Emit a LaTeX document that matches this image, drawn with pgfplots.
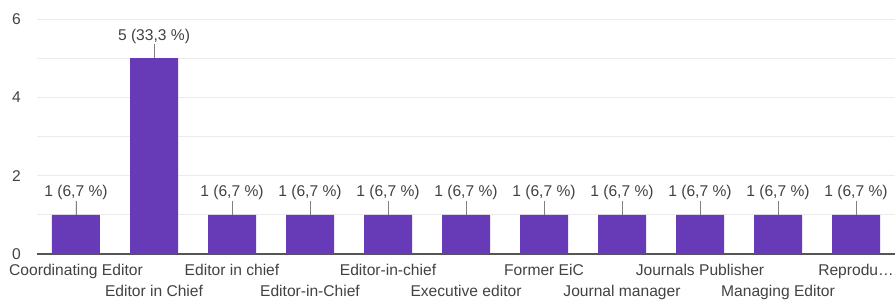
\documentclass[border=0pt]{standalone}
\usepackage{fontspec}
\setmainfont{Liberation Sans}
\usepackage{pgfplots}
\pgfplotsset{compat=1.18}
\definecolor{barc}{HTML}{673AB7}
\definecolor{txt}{HTML}{424242}
\definecolor{gridc}{HTML}{EBEBEB}
\definecolor{axc}{HTML}{555555}
\begin{document}
\begin{tikzpicture}
\begin{axis}[
  scale only axis,
  width=858bp, height=235bp,
  xmin=-0.5, xmax=10.5, ymin=0, ymax=6,
  ytick={0,2,4,6}, minor ytick={1,3,5},
  ymajorgrids, yminorgrids,
  grid style={draw=gridc, line width=0.8bp},
  minor grid style={draw=gridc, line width=0.8bp},
  major tick length=0pt, minor tick length=0pt,
  axis line style={draw=none},
  extra y ticks={0}, extra y tick labels={},
  extra y tick style={grid style={draw=axc, line width=1.5bp}},
  xtick={0,...,10},
  xticklabels={
    {\strut Coordinating Editor},
    {\strut\\\strut Editor in Chief},
    {\strut Editor in chief},
    {\strut\\\strut Editor-in-Chief},
    {\strut Editor-in-chief},
    {\strut\\\strut Executive editor},
    {\strut Former EiC},
    {\strut\\\strut Journal manager},
    {\strut Journals Publisher},
    {\strut\\\strut Managing Editor},
    {\strut Reprodu…}},
  xticklabel style={align=center, anchor=north, inner sep=0pt, yshift=-6.5bp,
    font=\fontsize{15.6bp}{21bp}\selectfont, text=txt},
  yticklabel style={font=\fontsize{15.6bp}{18bp}\selectfont, text=txt, inner sep=0pt, xshift=-16bp},
  /pgf/number format/assume math mode=true,
  ybar, bar width=48bp,
  point meta=explicit symbolic,
  nodes near coords,
  nodes near coords style={anchor=base, inner sep=0pt, yshift=18bp,
    font=\fontsize{15.6bp}{18bp}\selectfont, text=txt},
]
\addplot[fill=barc, draw=none,
  error bars/.cd, y dir=plus, y fixed=0.36, error mark=none,
  error bar style={draw=gray, line width=0.9bp}]
coordinates {
  (0,1) [1 (6,7 \%)]
  (1,5) [5 (33,3 \%)]
  (2,1) [1 (6,7 \%)]
  (3,1) [1 (6,7 \%)]
  (4,1) [1 (6,7 \%)]
  (5,1) [1 (6,7 \%)]
  (6,1) [1 (6,7 \%)]
  (7,1) [1 (6,7 \%)]
  (8,1) [1 (6,7 \%)]
  (9,1) [1 (6,7 \%)]
  (10,1) [1 (6,7 \%)]
};
\end{axis}
\pgfresetboundingbox
\path (current axis.south west) ++(-37bp,-46bp) coordinate (bl);
\path (current axis.north east) ++(0bp,19bp) coordinate (tr);
\path (bl) rectangle (tr);
\end{tikzpicture}
\end{document}
